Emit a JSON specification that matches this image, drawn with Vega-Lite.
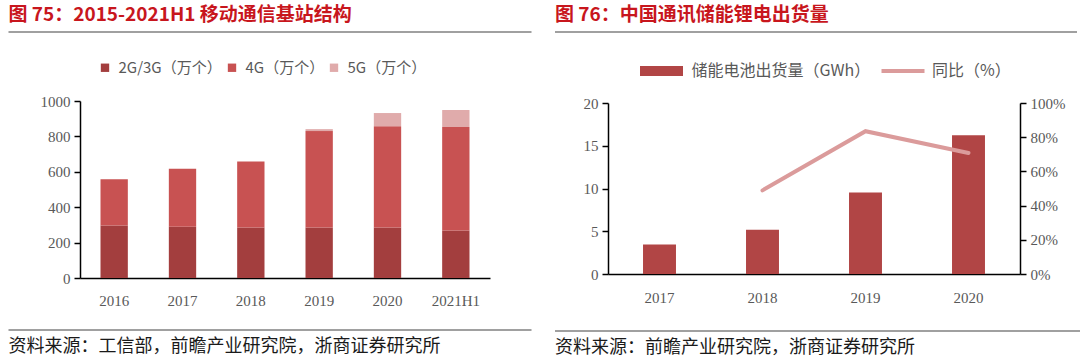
{
  "$schema": "https://vega.github.io/schema/vega-lite/v6.json",
  "padding": {"left": 7, "top": 6, "right": 0, "bottom": 0},
  "background": "white",
  "config": {
    "view": {"stroke": null},
    "font": "Noto Sans CJK SC",
    "axis": {"labelFont": "Liberation Serif", "labelFontSize": 15, "labelColor": "#595959", "domainColor": "#000000", "domainWidth": 1.5, "tickColor": "#000000", "tickWidth": 1.5, "tickSize": 6, "grid": false, "title": null},
    "legend": {"labelFont": "Noto Sans CJK SC", "labelFontSize": 15, "labelColor": "#595959", "padding": 0, "title": null, "labelLimit": 400}
  },
  "spacing": 21,
  "resolve": {"scale": {"color": "independent", "fill": "independent", "stroke": "independent"}},
  "hconcat": [
    {
      "spacing": 21,
      "resolve": {"scale": {"color": "independent"}},
      "vconcat": [
        {
          "width": 451.5, "height": 6.5,
          "title": {"text": "图 75：2015-2021H1 移动通信基站结构", "anchor": "start", "frame": "group", "dx": -71.5, "fontSize": 19, "fontWeight": "bold", "color": "#C8161D", "font": "Noto Sans CJK SC", "offset": 6},
          "data": {"values": [{"a": 0, "b": 1, "v": 1}]},
          "mark": {"type": "rule", "color": "#808080", "strokeWidth": 1.5},
          "encoding": {
            "x": {"field": "a", "type": "quantitative", "scale": {"domain": [0, 1], "range": [-71.5, 451.5]}, "axis": null},
            "x2": {"field": "b"},
            "y": {"field": "v", "type": "quantitative", "scale": {"domain": [0, 1]}, "axis": null}
          }
        },
        {
          "width": 410, "height": 177,
          "data": {"values": [
            {"year": "2016", "type": "2G/3G（万个）", "k": 1, "value": 296},
            {"year": "2016", "type": "4G（万个）", "k": 2, "value": 262},
            {"year": "2017", "type": "2G/3G（万个）", "k": 1, "value": 290},
            {"year": "2017", "type": "4G（万个）", "k": 2, "value": 327},
            {"year": "2018", "type": "2G/3G（万个）", "k": 1, "value": 285},
            {"year": "2018", "type": "4G（万个）", "k": 2, "value": 373},
            {"year": "2019", "type": "2G/3G（万个）", "k": 1, "value": 285},
            {"year": "2019", "type": "4G（万个）", "k": 2, "value": 545},
            {"year": "2019", "type": "5G（万个）", "k": 3, "value": 11},
            {"year": "2020", "type": "2G/3G（万个）", "k": 1, "value": 285},
            {"year": "2020", "type": "4G（万个）", "k": 2, "value": 573},
            {"year": "2020", "type": "5G（万个）", "k": 3, "value": 74},
            {"year": "2021H1", "type": "2G/3G（万个）", "k": 1, "value": 268},
            {"year": "2021H1", "type": "4G（万个）", "k": 2, "value": 585},
            {"year": "2021H1", "type": "5G（万个）", "k": 3, "value": 96}
          ]},
          "mark": {"type": "bar"},
          "encoding": {
            "x": {"field": "year", "type": "nominal", "sort": null, "scale": {"paddingInner": 0.6, "paddingOuter": 0.3}, "axis": {"labelAngle": 0, "ticks": false, "labelPadding": 15, "labelFont": "Liberation Serif"}},
            "y": {"field": "value", "type": "quantitative", "stack": "zero", "scale": {"domain": [0, 1000]}, "axis": {"values": [0, 200, 400, 600, 800, 1000], "format": "d", "minExtent": 71.5, "labelPadding": 4, "labelFont": "Liberation Serif"}},
            "color": {"field": "type", "type": "nominal", "scale": {"domain": ["2G/3G（万个）", "4G（万个）", "5G（万个）"], "range": ["#A33E3E", "#C85252", "#E0ABAB"]},
              "legend": {"orient": "none", "legendX": 17.5, "legendY": -41, "direction": "horizontal", "symbolType": "square", "symbolSize": 70, "symbolStrokeWidth": 0, "labelOffset": 6, "columnPadding": 2}},
            "order": {"field": "k", "type": "quantitative"}
          }
        },
        {
          "width": 451.5, "height": 1,
          "title": {"text": "资料来源：工信部，前瞻产业研究院，浙商证券研究所", "orient": "bottom", "anchor": "start", "frame": "group", "dx": -71.5, "fontSize": 18, "fontWeight": "normal", "color": "#1a1a1a", "font": "Noto Sans CJK SC", "offset": 7},
          "data": {"values": [{"a": 0, "b": 1, "v": 1}]},
          "mark": {"type": "rule", "color": "#808080", "strokeWidth": 1.5},
          "encoding": {
            "x": {"field": "a", "type": "quantitative", "scale": {"domain": [0, 1], "range": [-71.5, 451.5]}, "axis": null},
            "x2": {"field": "b"},
            "y": {"field": "v", "type": "quantitative", "scale": {"domain": [0, 1]}, "axis": null}
          }
        }
      ]
    },
    {
      "spacing": 25,
      "resolve": {"scale": {"fill": "independent", "stroke": "independent"}},
      "vconcat": [
        {
          "width": 469, "height": 5.5,
          "title": {"text": "图 76：中国通讯储能锂电出货量", "anchor": "start", "frame": "group", "dx": -53, "fontSize": 19, "fontWeight": "bold", "color": "#C8161D", "font": "Noto Sans CJK SC", "offset": 6},
          "data": {"values": [{"a": 0, "b": 1, "v": 1}]},
          "mark": {"type": "rule", "color": "#808080", "strokeWidth": 1.5},
          "encoding": {
            "x": {"field": "a", "type": "quantitative", "scale": {"domain": [0, 1], "range": [-53, 469]}, "axis": null},
            "x2": {"field": "b"},
            "y": {"field": "v", "type": "quantitative", "scale": {"domain": [0, 1]}, "axis": null}
          }
        },
        {
          "width": 412, "height": 171,
          "data": {"values": [
            {"year": "2017", "shipment": 3.44, "yoy": null},
            {"year": "2018", "shipment": 5.19, "yoy": 0.489},
            {"year": "2019", "shipment": 9.52, "yoy": 0.835},
            {"year": "2020", "shipment": 16.22, "yoy": 0.708}
          ]},
          "encoding": {
            "x": {"field": "year", "type": "nominal", "sort": null, "scale": {"paddingInner": 0.68, "paddingOuter": 0.34}, "axis": {"labelAngle": 0, "ticks": false, "labelPadding": 16, "labelFont": "Liberation Serif"}}
          },
          "layer": [
            {
              "mark": {"type": "bar"},
              "encoding": {
                "y": {"field": "shipment", "type": "quantitative", "scale": {"domain": [0, 20]}, "axis": {"values": [0, 5, 10, 15, 20], "minExtent": 53, "labelPadding": 4, "labelFont": "Liberation Serif"}},
                "fill": {"datum": "储能电池出货量（GWh）", "scale": {"range": ["#B14545"]},
                  "legend": {"orient": "none", "legendX": 45.5, "legendY": -40, "symbolType": "M-4.3,-1H4.3V1H-4.3Z", "symbolSize": 100, "symbolStrokeWidth": 0, "labelOffset": 22, "labelFontSize": 16}}
              }
            },
            {
              "mark": {"type": "line", "strokeWidth": 4, "strokeCap": "round"},
              "encoding": {
                "y": {"field": "yoy", "type": "quantitative", "scale": {"domain": [0, 1]}, "axis": {"orient": "right", "values": [0, 0.2, 0.4, 0.6, 0.8, 1], "format": ".0%", "labelPadding": 4, "labelFont": "Liberation Serif"}},
                "stroke": {"datum": "同比（%）", "scale": {"range": ["#DB9B9B"]},
                  "legend": {"orient": "none", "legendX": 287, "legendY": -40, "symbolType": "M-4.3,0H4.3", "symbolSize": 100, "symbolStrokeWidth": 4, "labelOffset": 21, "labelFontSize": 16}}
              }
            }
          ],
          "resolve": {"scale": {"y": "independent"}}
        },
        {
          "width": 476, "height": 1,
          "title": {"text": "资料来源：前瞻产业研究院，浙商证券研究所", "orient": "bottom", "anchor": "start", "frame": "group", "dx": -53, "fontSize": 18, "fontWeight": "normal", "color": "#1a1a1a", "font": "Noto Sans CJK SC", "offset": 7},
          "data": {"values": [{"a": 0, "b": 1, "v": 1}]},
          "mark": {"type": "rule", "color": "#808080", "strokeWidth": 1.5},
          "encoding": {
            "x": {"field": "a", "type": "quantitative", "scale": {"domain": [0, 1], "range": [-53, 476]}, "axis": null},
            "x2": {"field": "b"},
            "y": {"field": "v", "type": "quantitative", "scale": {"domain": [0, 1]}, "axis": null}
          }
        }
      ]
    }
  ]
}
